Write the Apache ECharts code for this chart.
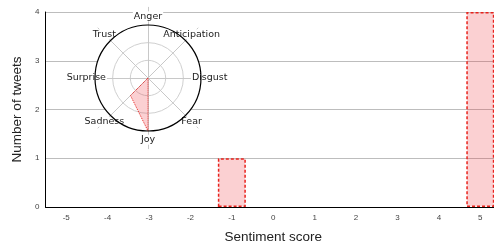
<!DOCTYPE html>
<html>
<head>
<meta charset="utf-8">
<script src="https://cdn.jsdelivr.net/npm/echarts@6/dist/echarts.min.js"></script>
<style>
  html, body { margin: 0; padding: 0; background: #fff; }
  #main { width: 494px; height: 246px; }
</style>
</head>
<body>
<div id="main"></div>
<script>
// sentiment histogram
var scores = ['-5', '-4', '-3', '-2', '-1', '0', '1', '2', '3', '4', '5'];
var tweetCounts = [0, 0, 0, 0, 1, 0, 0, 0, 0, 0, 4];
var yTicks = [0, 1, 2, 3, 4];

// emotion radar (counter-clockwise from the top)
var emotions = ['Anger', 'Trust', 'Surprise', 'Sadness', 'Joy', 'Fear', 'Disgust', 'Anticipation'];
var emotionValues = [0, 0, 0, 1.4, 3, 0, 0, 0];
var emotionMax = 4;

var chart = echarts.init(document.getElementById('main'), null, { renderer: 'canvas' });

var none = 'rgba(0,0,0,0)';
var blankIndicators = emotions.map(function () { return { name: '', max: emotionMax, min: 0 }; });

var option = {
  animation: false,
  backgroundColor: '#fff',
  textStyle: { fontFamily: 'Liberation Sans' },
  grid: { left: 45.5, right: -7, top: 12, bottom: 39, outerBoundsMode: 'none', containLabel: false },
  xAxis: {
    type: 'category',
    data: scores,
    name: 'Sentiment score',
    nameLocation: 'middle',
    nameGap: 23,
    nameTextStyle: { fontSize: 13.5, color: '#222' },
    axisLine: { lineStyle: { color: '#000', width: 1 } },
    axisTick: { show: false },
    axisLabel: { fontSize: 8, color: '#444', margin: 7 },
    splitLine: { show: false }
  },
  yAxis: {
    type: 'value',
    min: yTicks[0],
    max: yTicks[yTicks.length - 1],
    interval: 1,
    name: 'Number of tweets',
    nameLocation: 'middle',
    nameGap: 18,
    nameTextStyle: { fontSize: 13.5, color: '#222' },
    axisLine: { show: true, lineStyle: { color: '#000', width: 1 } },
    axisTick: { show: false },
    axisLabel: { fontSize: 8, color: '#444', margin: 6 },
    splitLine: { lineStyle: { color: '#bdbdbd', width: 1 } }
  },
  radar: [
    {
      // spokes, inner rings, names
      z: 4,
      center: [148, 78],
      radius: 70.7,
      shape: 'circle',
      splitNumber: 4,
      indicator: emotions.map(function (e) { return { name: e, max: emotionMax, min: 0 }; }),
      nameGap: -9,
      axisName: {
        color: '#222',
        fontFamily: 'DejaVu Sans',
        fontSize: 9.5,
        align: 'center',
        verticalAlign: 'middle',
        backgroundColor: '#fff',
        padding: [0, 1]
      },
      axisLine: { lineStyle: { color: '#c8c8c8', width: 1 } },
      splitLine: { lineStyle: { color: [none, '#d0d0d0', '#d0d0d0', none, none], width: 1 } },
      splitArea: { show: false }
    },
    {
      // white disc
      z: 3,
      center: [148, 78],
      radius: 53,
      shape: 'circle',
      splitNumber: 1,
      indicator: blankIndicators,
      axisName: { show: false },
      axisLine: { show: false },
      splitLine: { show: false },
      splitArea: { show: true, areaStyle: { color: ['#fff'] } }
    },
    {
      // black rim, on top of the names
      z: 6,
      center: [148, 78],
      radius: 53,
      shape: 'circle',
      splitNumber: 1,
      indicator: blankIndicators,
      axisName: { show: false },
      axisLine: { show: false },
      splitLine: { lineStyle: { color: [none, '#000'], width: 1.2 } },
      splitArea: { show: false }
    }
  ],
  series: [
    {
      type: 'bar',
      z: 2,
      barWidth: 28,
      data: tweetCounts.map(function (v) { return v === 0 ? null : v; }),
      itemStyle: {
        color: 'rgba(235,40,50,0.22)',
        borderColor: '#e8221c',
        borderWidth: 1.5,
        borderType: [3, 2]
      }
    },
    {
      type: 'radar',
      radarIndex: 0,
      z: 5,
      symbol: 'none',
      data: [{ value: emotionValues }],
      lineStyle: { color: '#e8221c', width: 1, type: 'dotted' },
      areaStyle: { color: 'rgba(235,40,50,0.22)', opacity: 1 }
    }
  ]
};

chart.setOption(option);
</script>
</body>
</html>
